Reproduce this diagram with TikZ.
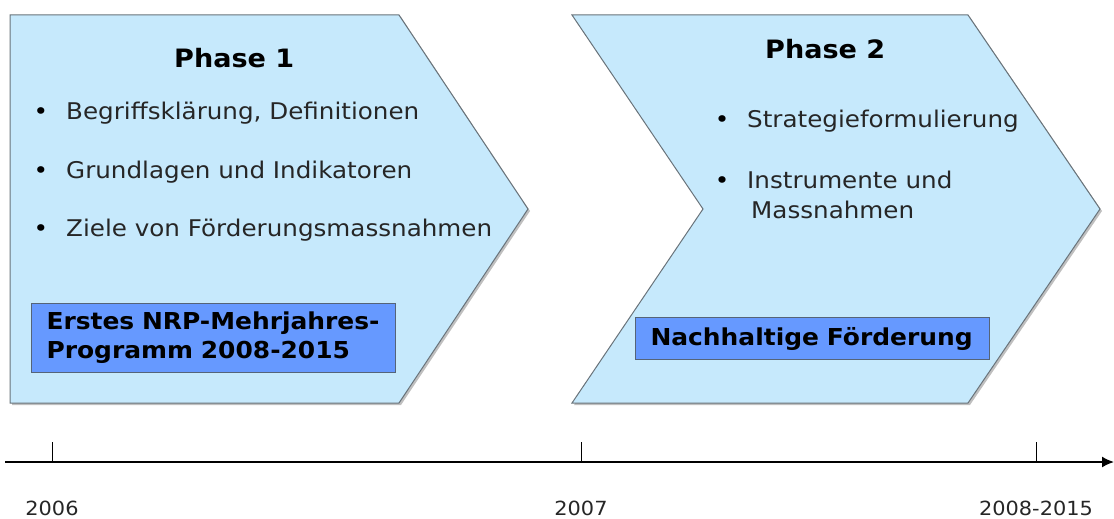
\documentclass[tikz,border=0pt]{standalone}
\usepackage{fontspec}
\setmainfont[FakeStretch=1.07]{DejaVu Sans}
\usetikzlibrary{shapes,arrows,arrows.meta,positioning,calc}
\definecolor{phasefill}{RGB}{198,233,252}
\definecolor{phaseline}{RGB}{105,115,122}
\definecolor{progfill}{RGB}{102,153,255}
\definecolor{progline}{RGB}{85,100,120}

\begin{document}
\begin{tikzpicture}[x=1pt,y=-1pt,
    phase/.style={fill=phasefill, draw=phaseline, line width=1pt},
    shade/.style={fill=black!25, draw=none},
    title/.style={anchor=base west, inner sep=0pt, font=\fontsize{25.3}{30}\selectfont\bfseries},
    item/.style={anchor=base west, inner sep=0pt, text=black!85, font=\fontsize{23}{29}\selectfont},
    dot/.style={anchor=base, inner sep=0pt, font=\fontsize{23}{29}\selectfont},
    progbox/.style={anchor=north west, fill=progfill, draw=progline, line width=1pt,
        inner xsep=15pt, inner ysep=0pt, align=left,
        font=\fontsize{23.3}{29}\selectfont\bfseries},
    year/.style={anchor=base, inner sep=0pt, text=black!85, font=\fontsize{19.5}{22}\selectfont}]
    \useasboundingbox (0,0) rectangle (1114,519);

    % phase 1
    \fill[shade] (12,17) -- (401,17) -- (530,211) -- (401,405) -- (12,405) -- cycle;
    \draw[phase] (10,15) -- (399,15) -- (528,209) -- (399,403) -- (10,403) -- cycle;
    \node[title] (phase1) at (174,68) {Phase 1};
    \foreach \y/\txt [count=\i] in {119/{Begriffsklärung, Definitionen},
        178/{Grundlagen und Indikatoren},
        236/{Ziele von Förderungsmassnahmen}} {
        \node[dot] (p1dot\i) at (41,\y) {\textbullet};
        \node[item] (p1item\i) at (66,\y) {\txt};
    }
    \node[progbox, minimum width=364pt, minimum height=69pt, text width=334pt] (prog1) at (31,303)
        {Erstes NRP-Mehrjahres-\\Programm 2008-2015};

    % phase 2
    \fill[shade] (574,17) -- (970,17) -- (1102,211) -- (970,405) -- (574,405) -- (705,211) -- cycle;
    \draw[phase] (572,15) -- (968,15) -- (1100,209) -- (968,403) -- (572,403) -- (703,209) -- cycle;
    \node[title] (phase2) at (765,59) {Phase 2};
    \node[dot] (p2dot1) at (722,127) {\textbullet};
    \node[item] (p2item1) at (747,127) {Strategieformulierung};
    \node[dot] (p2dot2) at (722,188) {\textbullet};
    \node[item] (p2item2) at (747,188) {Instrumente und};
    \node[item] (p2item3) at (751,218) {Massnahmen};
    \node[progbox, minimum width=354pt, minimum height=42pt, text width=324pt] (prog2) at (635,317)
        {Nachhaltige Förderung};

    % timeline
    \coordinate (tstart) at (5,462);
    \coordinate (tend) at (1114,462);
    \draw[line width=1.6pt, -{Latex[length=12pt,width=11pt]}] (tstart) -- (tend);
    \foreach \x/\lab/\n in {52/2006/a, 581/2007/b, 1036/2008-2015/c} {
        \coordinate (tick\n) at (\x,462);
        \draw[line width=1pt] (tick\n) -- ++(0,-20);
        \node[year] (year\n) at (\x,515) {\lab};
    }
\end{tikzpicture}
\end{document}
